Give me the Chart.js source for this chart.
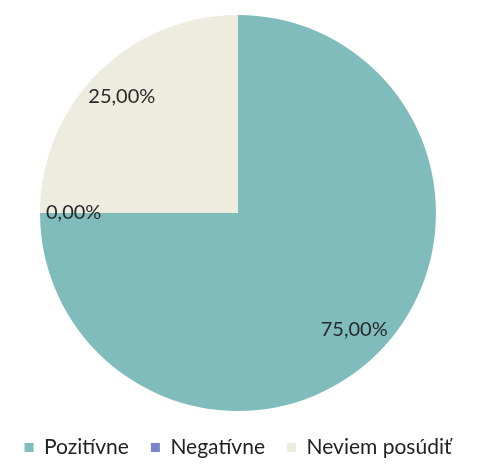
<!DOCTYPE html>
<html>
<head>
<meta charset="utf-8">
<script src="https://cdn.jsdelivr.net/npm/chart.js@4"></script>
<style>
html,body{margin:0;padding:0;background:#fff;}
#wrap{width:480px;height:468px;position:relative;}
</style>
</head>
<body>
<div id="wrap"><canvas id="c" width="480" height="468"></canvas></div>
<script>
const categories = ["Pozitívne", "Negatívne", "Neviem posúdiť"];
const values = [75, 0, 25];
const valueLabels = ["75,00%", "0,00%", "25,00%"];
const colors = ["#80bcbb", "#7b86c9", "#eeebdf"];

const labelPlugin = {
  id: 'sliceLabels',
  afterDatasetsDraw(chart) {
    const ctx = chart.ctx;
    const meta = chart.getDatasetMeta(0);
    ctx.save();
    ctx.font = '20px "Lato", "Open Sans", sans-serif';
    ctx.fillStyle = '#262a2a';
    ctx.textAlign = 'center';
    ctx.textBaseline = 'middle';
    meta.data.forEach((arc, i) => {
      const p = arc.getProps(['x','y','startAngle','endAngle','outerRadius'], true);
      const mid = (p.startAngle + p.endAngle) / 2;
      const r = p.outerRadius * 0.83;
      ctx.fillText(valueLabels[i], p.x + Math.cos(mid) * r, p.y + Math.sin(mid) * r);
    });
    ctx.restore();
  }
};

new Chart(document.getElementById('c'), {
  type: 'pie',
  data: {
    labels: categories,
    datasets: [{ data: values, backgroundColor: colors, borderWidth: 0, radius: '98%' }]
  },
  options: {
    responsive: false,
    animation: false,
    layout: { padding: { top: 11, left: 0, right: 4, bottom: 0 } },
    plugins: {
      tooltip: { enabled: false },
      legend: {
        position: 'bottom',
        labels: {
          boxWidth: 9, boxHeight: 9, padding: 22,
          color: '#222',
          font: { size: 21, family: '"Lato", "Open Sans", sans-serif' }
        }
      }
    }
  },
  plugins: [labelPlugin]
});
</script>
</body>
</html>
